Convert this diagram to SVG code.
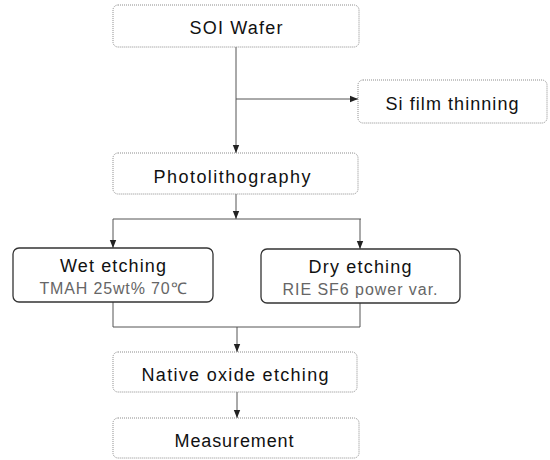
<svg xmlns="http://www.w3.org/2000/svg" width="550" height="460" viewBox="0 0 550 460">
<style>
.bx{fill:#fff;stroke:#8c8c8c;stroke-width:1;stroke-dasharray:1 1}
.bd{fill:#fff;stroke:#333;stroke-width:1.3}
.t{font-family:"Liberation Sans",Arial,sans-serif;font-size:18px;fill:#111;text-anchor:middle}
.s{font-family:"Liberation Sans",Arial,sans-serif;font-size:16px;fill:#666;text-anchor:middle}
.c{fill:none;stroke:#555;stroke-width:1}
</style>
<defs>
<marker id="ah" markerUnits="userSpaceOnUse" markerWidth="8" markerHeight="8" viewBox="0 0 8 8" refX="8" refY="4" orient="auto">
<path d="M0,0.8 L8,4 L0,7.2 Z" fill="#222"/>
</marker>
</defs>
<rect width="550" height="460" fill="#fff"/>
<g id="connectors">
<path class="c" d="M236,47 V153" marker-end="url(#ah)"/>
<path class="c" d="M236,99 H358" marker-end="url(#ah)"/>
<path class="c" d="M236,194 V219" marker-end="url(#ah)"/>
<path class="c" d="M113,219 H361"/>
<path class="c" d="M113,219 V248" marker-end="url(#ah)"/>
<path class="c" d="M360,219 V249" marker-end="url(#ah)"/>
<path class="c" d="M113,302 V327 H360 V303"/>
<path class="c" d="M237,327 V352" marker-end="url(#ah)"/>
<path class="c" d="M237,392 V418" marker-end="url(#ah)"/>
</g>
<g id="soi">
<rect class="bx" x="113" y="5" width="246" height="42" rx="5"/>
<text class="t" x="236" y="34" textLength="93" lengthAdjust="spacing">SOI Wafer</text>
</g>
<g id="thinning">
<rect class="bx" x="358" y="80" width="189" height="43" rx="5"/>
<text class="t" x="452" y="110" textLength="133" lengthAdjust="spacing">Si film thinning</text>
</g>
<g id="photo">
<rect class="bx" x="113" y="153" width="245" height="41" rx="5"/>
<text class="t" x="232" y="183" textLength="157" lengthAdjust="spacing">Photolithography</text>
</g>
<g id="wet">
<rect class="bd" x="13" y="248" width="200" height="54" rx="6"/>
<text class="t" x="113" y="272" font-size="19" textLength="106" lengthAdjust="spacing">Wet etching</text>
<text class="s" x="113" y="294" textLength="147" lengthAdjust="spacing">TMAH 25wt% 70℃</text>
</g>
<g id="dry">
<rect class="bd" x="261" y="249" width="199" height="54" rx="6"/>
<text class="t" x="360" y="273" font-size="19" textLength="103" lengthAdjust="spacing">Dry etching</text>
<text class="s" x="360" y="295" textLength="155" lengthAdjust="spacing">RIE SF6 power var.</text>
</g>
<g id="native">
<rect class="bx" x="113" y="352" width="244" height="40" rx="5"/>
<text class="t" x="235" y="381" textLength="187" lengthAdjust="spacing">Native oxide etching</text>
</g>
<g id="measurement">
<rect class="bx" x="113" y="418" width="246" height="40" rx="5"/>
<text class="t" x="234" y="447" textLength="119" lengthAdjust="spacing">Measurement</text>
</g>
</svg>
